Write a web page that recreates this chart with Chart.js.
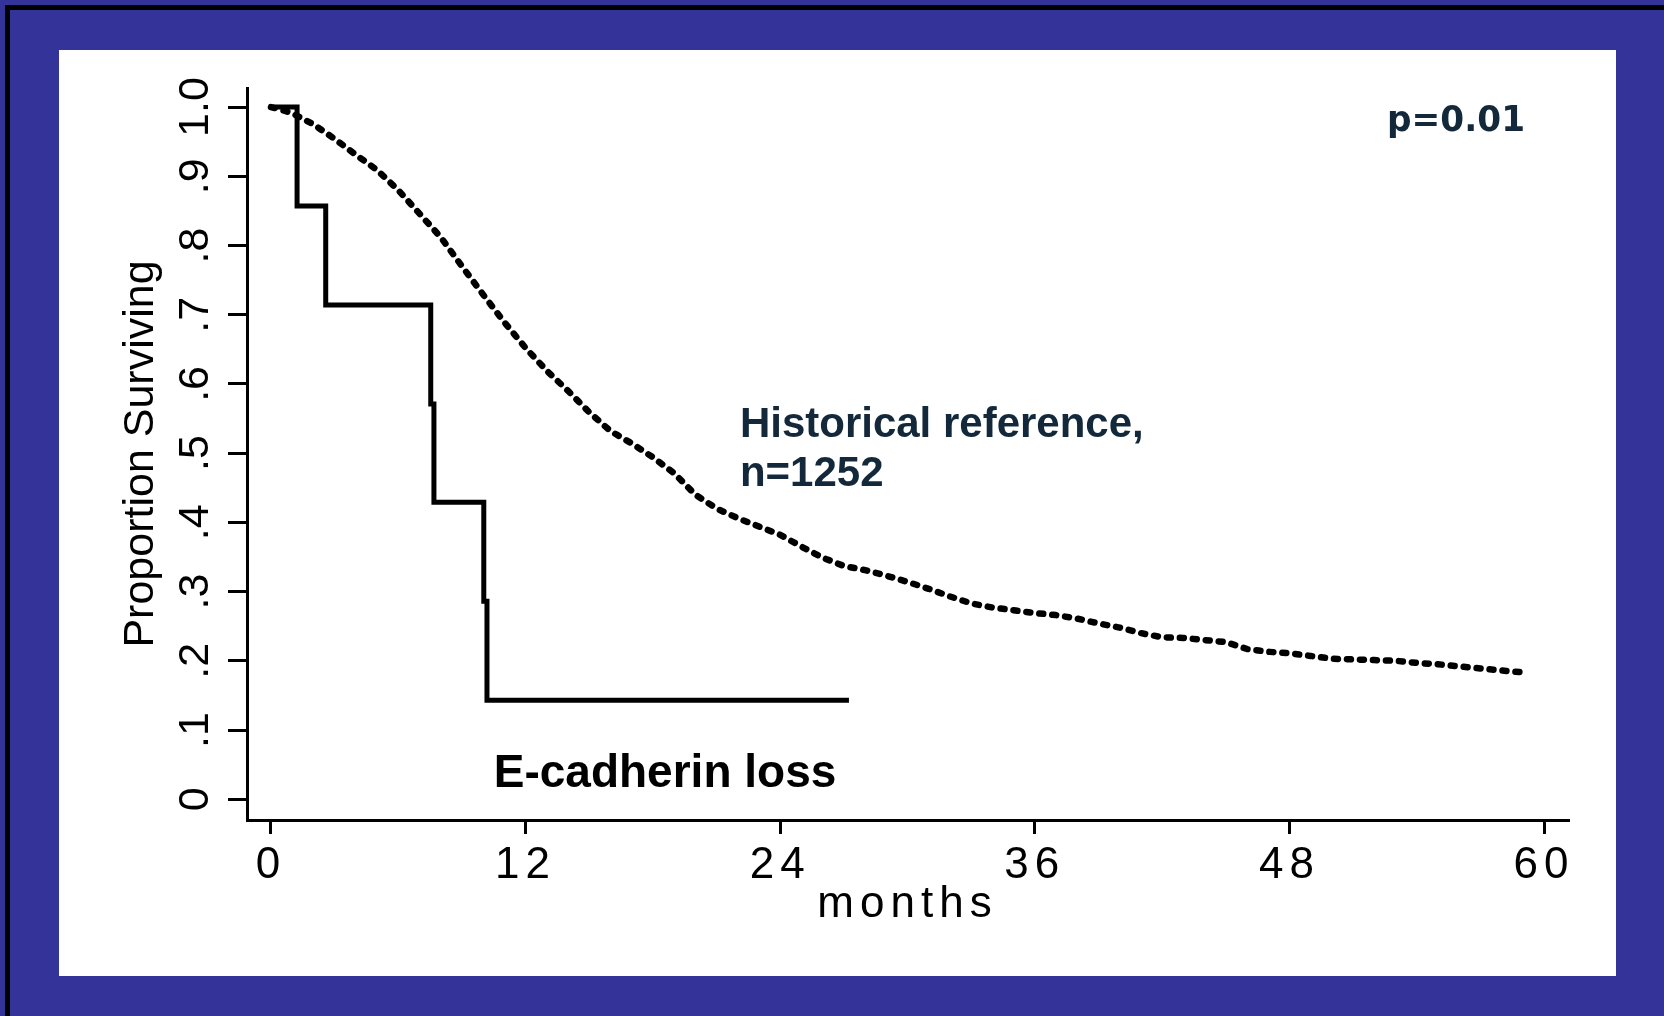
<!DOCTYPE html>
<html lang="en">
<head>
<meta charset="UTF-8">
<title>Proportion Surviving by months</title>
<script src="https://cdn.jsdelivr.net/npm/chart.js@4"></script>
<style>
  html, body { margin: 0; padding: 0; background: #333399; }
  #wrap { width: 1664px; height: 1016px; }
</style>
</head>
<body>
<div id="wrap"><canvas id="kmChart" width="1664" height="1016"></canvas></div>
<script>
// Kaplan-Meier curves: E-cadherin loss group (n=7) vs historical reference
const ecadMonths = [0, 1.23, 2.58, 7.53, 7.68, 10.03, 10.18, 27.24]
const ecadSurvival = [1, 0.857, 0.714, 0.571, 0.429, 0.286, 0.143, 0.143]

const histMonths = [0, 0.5, 1, 2, 3, 4, 5, 6, 7, 8, 9, 10, 11, 12, 13, 14, 15, 16, 17, 18, 19,
  20, 21, 22, 23, 24, 25, 26, 27, 28, 29, 30, 31, 32, 33, 34, 35, 36, 37, 38, 39,
  40, 41, 42, 43, 44, 45, 46, 47, 48, 49, 50, 51, 52, 53, 54, 55, 56, 57, 58, 59.15]
const histSurvival = [1, 0.996, 0.991, 0.975, 0.954, 0.931, 0.909, 0.880, 0.846, 0.812, 0.770,
  0.729, 0.689, 0.652, 0.619, 0.590, 0.559, 0.532, 0.514, 0.494, 0.471,
  0.440, 0.420, 0.406, 0.394, 0.382, 0.365, 0.349, 0.337, 0.331, 0.323,
  0.314, 0.304, 0.293, 0.283, 0.277, 0.273, 0.269, 0.266, 0.261, 0.254,
  0.248, 0.240, 0.234, 0.233, 0.230, 0.227, 0.217, 0.213, 0.211, 0.207,
  0.203, 0.202, 0.201, 0.200, 0.197, 0.195, 0.192, 0.189, 0.186, 0.183]

const xTicks = [0, 12, 24, 36, 48, 60]
const yTicks = [0, 0.1, 0.2, 0.3, 0.4, 0.5, 0.6, 0.7, 0.8, 0.9, 1]
const yTickLabels = ['0', '.1', '.2', '.3', '.4', '.5', '.6', '.7', '.8', '.9', '1.0']

const FONT = "'Liberation Sans', Arial, sans-serif"

// text placed in data units (month, proportion) at the left end of its baseline
const notes = [
  { text: 'p=0.01', month: 52.6, surv: 0.965, font: "bold 35px 'Comic Sans MS', 'DejaVu Sans', sans-serif", color: '#13293b', maxWidth: 138 },
  { text: 'Historical reference,', month: 22.1, surv: 0.523, font: 'bold 42px ' + FONT, color: '#13293b' },
  { text: 'n=1252', month: 22.1, surv: 0.452, font: 'bold 42px ' + FONT, color: '#13293b' },
  { text: 'E-cadherin loss', month: 10.5, surv: 0.017, font: 'bold 46px ' + FONT, color: '#000' }
]

const toPoints = (xs, ys) => xs.map((x, i) => ({ x, y: ys[i] }))

const slideFrame = {
  id: 'slideFrame',
  beforeDraw(chart) {
    const { ctx, width, height } = chart
    ctx.save()
    ctx.letterSpacing = '0px'
    ctx.fillStyle = '#333399'
    ctx.fillRect(0, 0, width, height)
    ctx.fillStyle = '#000'
    ctx.fillRect(5, 5, width - 5, 5)
    ctx.fillRect(5, 5, 5, height - 5)
    ctx.fillStyle = '#fff'
    ctx.fillRect(59, 50, 1557, 926)
    ctx.restore()
  },
  // x axis ticks and title are drawn after the datasets, with wide spacing
  afterDatasetsDraw(chart) {
    chart.ctx.letterSpacing = '6px'
  },
  afterDraw(chart) {
    const { ctx, scales: { x, y } } = chart
    ctx.letterSpacing = '0px'
    ctx.save()
    ctx.textAlign = 'left'
    ctx.textBaseline = 'alphabetic'
    for (const n of notes) {
      ctx.font = n.font
      ctx.fillStyle = n.color
      ctx.fillText(n.text, x.getPixelForValue(n.month), y.getPixelForValue(n.surv), n.maxWidth)
    }
    ctx.restore()
  }
}

const ctx = document.getElementById('kmChart').getContext('2d')
new Chart(ctx, {
  type: 'line',
  data: {
    datasets: [
      {
        label: 'E-cadherin loss',
        data: toPoints(ecadMonths, ecadSurvival),
        borderColor: '#000',
        borderWidth: 5,
        stepped: 'before',
        borderJoinStyle: 'miter',
        pointRadius: 0,
        fill: false
      },
      {
        label: 'Historical reference',
        data: toPoints(histMonths, histSurvival),
        borderColor: '#000',
        borderWidth: 6.5,
        borderDash: [4, 9],
        borderCapStyle: 'round',
        borderJoinStyle: 'round',
        pointRadius: 0,
        tension: 0,
        fill: false
      }
    ]
  },
  options: {
    responsive: false,
    animation: false,
    layout: { padding: { left: 100, top: 88, right: 96, bottom: 40 } },
    plugins: { legend: { display: false }, tooltip: { enabled: false } },
    scales: {
      x: {
        type: 'linear',
        min: -1.13,
        max: 61.13,
        afterBuildTicks: (s) => { s.ticks = xTicks.map((v) => ({ value: v })) },
        afterFit: (s) => {
          s.height = 156
          s.paddingLeft = 0
          s.paddingRight = 0
        },
        grid: { drawOnChartArea: false, tickLength: 14, color: '#000', lineWidth: 3, z: 1 },
        border: { color: '#000', width: 3, z: 1 },
        ticks: {
          z: 1,
          color: '#000',
          padding: 10,
          maxRotation: 0,
          autoSkip: false,
          font: { family: FONT, size: 44, lineHeight: 1 }
        },
        title: {
          display: true,
          text: 'months',
          color: '#000',
          padding: { top: 0, bottom: 49 },
          font: { family: FONT, size: 44, lineHeight: 1 }
        }
      },
      y: {
        min: -0.03,
        max: 1.0275,
        afterBuildTicks: (s) => { s.ticks = yTicks.map((v) => ({ value: v })) },
        afterFit: (s) => {
          s.width = 147
          s.paddingTop = 0
          s.paddingBottom = 0
        },
        grid: { drawOnChartArea: false, tickLength: 19, color: '#000', lineWidth: 3 },
        border: { color: '#000', width: 3 },
        ticks: {
          color: '#000',
          minRotation: 90,
          maxRotation: 90,
          crossAlign: 'center',
          padding: 2,
          autoSkip: false,
          callback: (value, index) => yTickLabels[index],
          font: { family: FONT, size: 43, lineHeight: 1 }
        },
        title: {
          display: true,
          text: 'Proportion Surviving',
          color: '#000',
          padding: { top: 20, bottom: 0 },
          font: { family: FONT, size: 43, lineHeight: 1 }
        }
      }
    }
  },
  plugins: [slideFrame]
})
</script>
</body>
</html>
